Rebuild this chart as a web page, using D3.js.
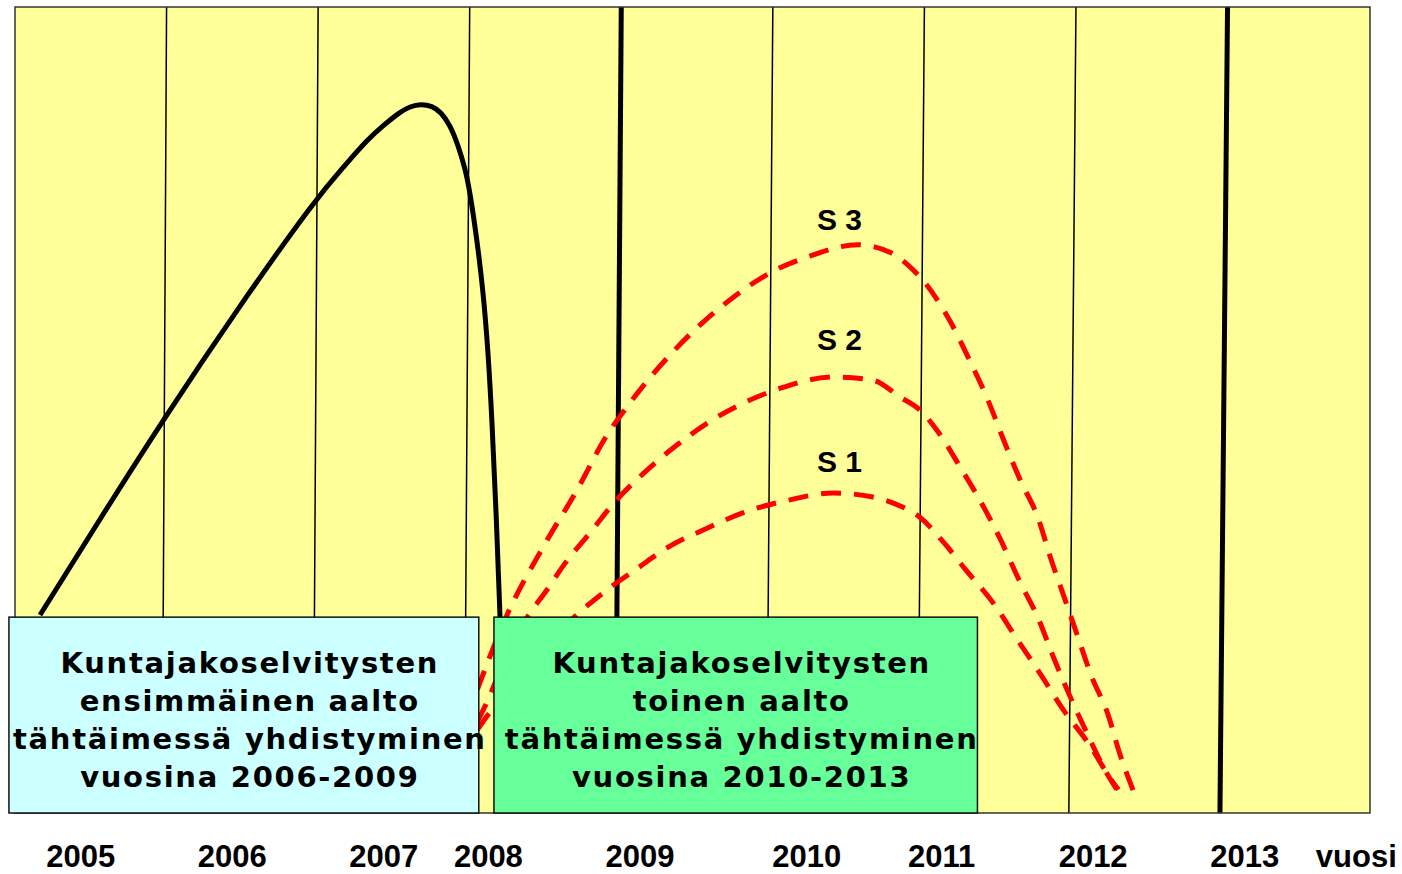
<!DOCTYPE html>
<html>
<head>
<meta charset="utf-8">
<script src="https://cdn.jsdelivr.net/npm/d3@7"></script>
<style>
body { margin: 0; background: #fff; }
.axis text, .vuosi { font-family: "Liberation Sans", Arial, sans-serif; font-weight: bold; font-size: 31px; fill: #000; }
.slabel { font-family: "Liberation Sans", Arial, sans-serif; font-weight: bold; font-size: 30px; fill: #000; }
.box text { font-family: "DejaVu Sans", Verdana, sans-serif; font-weight: bold; font-size: 29px; letter-spacing: 1.7px; fill: #000; }
</style>
</head>
<body>
<div id="chart"></div>
<script>

// vertical year lines, two of them drawn heavy
var gridYears = [2006, 2007, 2008, 2009, 2010, 2011, 2012, 2013];
var thickYears = [2009, 2013];

// tick labels sit a bit off the lines in the original
var tickYears = [2005.43, 2006.43, 2007.43, 2008.12, 2009.12, 2010.22, 2011.11, 2012.11, 2013.11];
var tickLabels = ["2005", "2006", "2007", "2008", "2009", "2010", "2011", "2012", "2013"];
var axisTitle = "vuosi", axisTitleYear = 2013.85;

// first wave (solid black) [year, value]
var firstWave = [[2005.165,24.57],[2005.561,36.48],[2005.976,48.76],[2006.485,63.03],[2006.993,76.43],
  [2007.177,80.33],[2007.322,83.50],[2007.441,85.48],[2007.540,86.97],[2007.606,87.66],[2007.679,87.97],
  [2007.751,87.72],[2007.811,86.97],[2007.870,85.36],[2007.923,82.88],[2007.969,80.02],[2008.002,77.05],
  [2008.048,71.09],[2008.088,64.89],[2008.121,57.44],[2008.147,48.76],[2008.174,37.59],[2008.200,24.32]];

// second wave scenarios (red dashed)
var s1 = [[2008.05,10.3],[2008.11,11.9],[2008.40,18.0],[2008.69,24.3],[2008.88,27.3],[2009.11,30.4],
  [2009.31,33.0],[2009.54,35.1],[2009.81,37.3],[2010.10,38.8],[2010.40,39.7],[2010.66,39.2],
  [2010.84,38.1],[2010.97,36.7],[2011.13,33.5],[2011.28,30.0],[2011.46,25.9],[2011.61,21.6],
  [2011.77,17.1],[2011.92,12.7],[2012.08,8.7],[2012.23,4.2],[2012.28,2.9]];
var s2 = [[2008.05,11.3],[2008.11,13.6],[2008.27,20.8],[2008.38,24.3],[2008.51,27.7],[2008.63,31.0],
  [2008.80,34.9],[2008.93,38.0],[2009.15,42.2],[2009.35,45.4],[2009.57,48.4],[2009.81,50.9],
  [2010.05,52.7],[2010.40,54.1],[2010.66,53.7],[2010.84,51.6],[2010.97,50.0],[2011.09,47.3],
  [2011.24,42.8],[2011.39,38.0],[2011.50,34.0],[2011.63,28.7],[2011.75,24.2],[2011.85,19.4],
  [2011.96,14.5],[2012.08,9.6],[2012.21,4.7],[2012.27,2.9]];
var s3 = [[2008.05,15.3],[2008.24,24.3],[2008.50,33.5],[2008.70,39.8],[2008.90,46.7],[2009.07,51.2],
  [2009.35,57.4],[2009.74,64.0],[2009.99,67.1],[2010.23,69.0],[2010.56,70.5],[2010.78,69.5],
  [2010.89,68.0],[2010.99,66.1],[2011.17,61.0],[2011.30,56.1],[2011.42,51.2],[2011.52,46.4],
  [2011.63,41.4],[2011.75,36.6],[2011.83,31.8],[2011.92,26.9],[2012.01,22.0],[2012.10,17.1],
  [2012.21,12.3],[2012.29,7.3],[2012.39,2.2]];
var scenarios = [s1, s2, s3];
var scenarioNames = ["S 1", "S 2", "S 3"];
var scenarioLabelYear = 2010.44;
var scenarioLabelValues = [42.3, 57.4, 72.3];

// the two text boxes: [fromYear, toYear, topValue]
var boxSpans = [[2004.96, 2008.06, 24.3], [2008.16, 2011.35, 24.3]];
var boxColors = ["#CCFFFF", "#66FF99"];
var boxLines = [
  ["Kuntajakoselvitysten", "ensimmäinen aalto", "tähtäimessä yhdistyminen", "vuosina 2006-2009"],
  ["Kuntajakoselvitysten", "toinen aalto", "tähtäimessä yhdistyminen", "vuosina 2010-2013"]
];

var widthT = 1402, heightT = 874;
var margin = {top: 7, right: 32, bottom: 61, left: 15};

var svg = d3.select("#chart")
    .append("svg")
    .attr("width", widthT)
    .attr("height", heightT);

var x = d3.scaleLinear().domain([2005, 2013.94]).range([margin.left, widthT - margin.right]),
    xLow = d3.scaleLinear().domain([2005, 2013.94]).range([11, 1362]),   // lines lean a little
    y = d3.scaleLinear().domain([0, 100]).range([heightT - margin.bottom, margin.top]);

var y0 = y(0), y1 = y(100);

// background
svg.append("rect")
    .attr("x", x(2005))
    .attr("y", y1)
    .attr("width", x(2013.94) - x(2005))
    .attr("height", y0 - y1)
    .attr("fill", "#FFFF99");

svg.append("g")
    .attr("class", "grid")
  .selectAll("line")
  .data(gridYears)
  .enter().append("line")
    .attr("x1", function(d) { return x(d); })
    .attr("x2", function(d) { return xLow(d); })
    .attr("y1", y1)
    .attr("y2", y0)
    .attr("stroke", "#000")
    .attr("stroke-width", function(d) { return thickYears.indexOf(d) >= 0 ? 5 : 1.5; });

var line = d3.line()
    .curve(d3.curveMonotoneX)
    .x(function(d) { return x(d[0]); })
    .y(function(d) { return y(d[1]); });

// smoother for the solid wave
var lineSmooth = d3.line()
    .curve(d3.curveBasis)
    .x(function(d) { return x(d[0]); })
    .y(function(d) { return y(d[1]); });

svg.append("path")
    .datum(firstWave)
    .attr("d", lineSmooth)
    .attr("fill", "none")
    .attr("stroke", "#000")
    .attr("stroke-width", 5);

svg.append("g")
  .selectAll("path")
  .data(scenarios)
  .enter().append("path")
    .attr("d", line)
    .attr("fill", "none")
    .attr("stroke", "#FF0000")
    .attr("stroke-width", 5)
    .attr("stroke-dasharray", "20,13");

svg.append("g")
  .selectAll("text")
  .data(scenarioNames)
  .enter().append("text")
    .attr("class", "slabel")
    .attr("x", x(scenarioLabelYear))
    .attr("y", function(d, i) { return y(scenarioLabelValues[i]); })
    .attr("text-anchor", "middle")
    .text(function(d) { return d; });

// frame
svg.append("rect")
    .attr("x", x(2005))
    .attr("y", y1)
    .attr("width", x(2013.94) - x(2005))
    .attr("height", y0 - y1)
    .attr("fill", "none")
    .attr("stroke", "#333")
    .attr("stroke-width", 1.5);

var box = svg.selectAll(".box")
    .data(boxSpans)
  .enter().append("g")
    .attr("class", "box");

box.append("rect")
    .attr("x", function(d) { return x(d[0]); })
    .attr("y", function(d) { return y(d[2]); })
    .attr("width", function(d) { return x(d[1]) - x(d[0]); })
    .attr("height", function(d) { return y0 - y(d[2]); })
    .attr("fill", function(d, i) { return boxColors[i]; })
    .attr("stroke", "#111")
    .attr("stroke-width", 1.5);

box.each(function(d, i) {
  var cx = (x(d[0]) + x(d[1])) / 2 + 6;
  d3.select(this).selectAll("text")
    .data(boxLines[i])
    .enter().append("text")
      .attr("x", cx)
      .attr("y", function(t, j) { return y(d[2]) + 56 + j * 38; })
      .attr("text-anchor", "middle")
      .text(function(t) { return t; });
});

var xAxis = d3.axisBottom(x)
    .tickValues(tickYears)
    .tickFormat(function(d, i) { return tickLabels[i]; })
    .tickSize(0)
    .tickPadding(32);

var gx = svg.append("g")
    .attr("class", "axis")
    .attr("transform", "translate(0," + y0 + ")")
    .call(xAxis);
gx.select(".domain").remove();

svg.append("text")
    .attr("class", "vuosi")
    .attr("x", x(axisTitleYear))
    .attr("y", 867)
    .attr("text-anchor", "middle")
    .text(axisTitle);

</script>
</body>
</html>
